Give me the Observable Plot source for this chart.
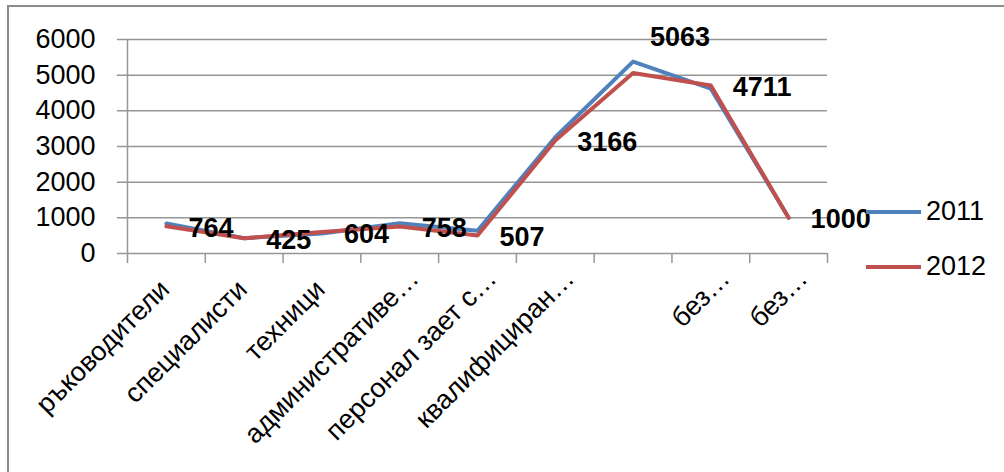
<!DOCTYPE html>
<html>
<head>
<meta charset="utf-8">
<script src="https://cdn.jsdelivr.net/npm/d3@7"></script>
<script src="https://cdn.jsdelivr.net/npm/@observablehq/plot@0.6"></script>
<style>
  html, body { margin: 0; padding: 0; background: #fff; }
  #wrap { position: relative; width: 1004px; height: 472px; overflow: hidden; font-family: "Liberation Sans", Arial, sans-serif; }
  #frame { position: absolute; left: 7px; top: 5px; right: 0; bottom: 0; border-top: 2px solid #8c8c8c; border-left: 2px solid #8c8c8c; }
  #chart { position: absolute; left: 0; top: 0; }
  .legend { position: absolute; left: 866px; font-size: 27px; color: #000; display: flex; align-items: center; }
  .legend .sw { width: 55px; height: 4px; margin-right: 5px; }
</style>
</head>
<body>
<div id="wrap">
  <div id="frame"></div>
  <div id="chart"></div>
  <div id="legend"></div>
</div>
<script>
const categories = ["ръководители", "специалисти", "техници", "административе…", "персонал зает с…", "квалифициран…", "", "без…", "без…"];
const series2011 = [840, 430, 560, 850, 640, 3260, 5380, 4620, 1000];
const series2012 = [764, 425, 604, 758, 507, 3166, 5063, 4711, 1000];
const years = ["2011", "2012"];
const colors = ["#4F81BD", "#C0504D"];
const yTicks = [0, 1000, 2000, 3000, 4000, 5000, 6000];

const rows = [];
categories.forEach((c, i) => {
  rows.push({i, cat: c, year: "2011", value: series2011[i]});
  rows.push({i, cat: c, year: "2012", value: series2012[i]});
});
const rows2012 = rows.filter(d => d.year === "2012");
const peakIdx = series2012.indexOf(d3.max(series2012));
const edges = d3.range(categories.length + 1).map(k => k - 0.5);
const catRows = categories.map((c, i) => ({i, cat: c}));
const fullLabels = catRows.filter(d => !d.cat.endsWith("…"));
const cutLabels = catRows.filter(d => d.cat.endsWith("…"));
const font = "'Liberation Sans', Arial, sans-serif";

const labelOpts = {x: "i", y: () => 0, text: "cat", rotate: -45, textAnchor: "end", lineAnchor: "top", fontSize: 27, fill: "#000"};

const plot = Plot.plot({
  width: 1004,
  height: 472,
  marginLeft: 127,
  marginRight: 177,
  marginTop: 39,
  marginBottom: 219,
  style: {fontFamily: font, fontSize: "27px", background: "transparent", overflow: "visible"},
  x: {type: "linear", domain: [-0.5, categories.length - 0.5]},
  y: {domain: [0, 6000]},
  color: {domain: years, range: colors},
  marks: [
    Plot.ruleY(yTicks, {x1: -0.63, x2: categories.length - 0.5, stroke: "#969696", strokeWidth: 1.5}),
    Plot.axisY({ticks: yTicks, tickSize: 0, tickPadding: 32, tickFormat: d3.format("d"), fontSize: 27, fill: "#000", label: null}),
    Plot.ruleX([-0.5], {y1: 0, y2: 6000, stroke: "#969696", strokeWidth: 1.5}),
    Plot.axisX({ticks: edges, tickSize: 10, tickFormat: () => "", stroke: "#969696", strokeWidth: 1.5, label: null}),
    Plot.text(fullLabels, {...labelOpts, dx: -9, dy: 24}),
    Plot.text(cutLabels, {...labelOpts, dx: 7, dy: 13}),
    Plot.line(rows, {x: "i", y: "value", z: "year", stroke: "year", strokeWidth: 4, strokeLinejoin: "round", curve: "linear"}),
    Plot.text(rows2012.filter(d => d.i !== peakIdx), {
      x: "i", y: "value", text: d => String(d.value),
      textAnchor: "start", dx: 22, dy: 2, fontSize: 27, fontWeight: "bold", fill: "#000"
    }),
    Plot.text(rows2012.filter(d => d.i === peakIdx), {
      x: "i", y: "value", text: d => String(d.value),
      textAnchor: "start", dx: 17, dy: -36, fontSize: 27, fontWeight: "bold", fill: "#000"
    })
  ]
});
document.getElementById("chart").appendChild(plot);

const leg = document.getElementById("legend");
const legTops = [196, 251];
years.forEach((y, k) => {
  const item = document.createElement("div");
  item.className = "legend";
  item.style.top = legTops[k] + "px";
  item.innerHTML = `<span class="sw" style="background:${colors[k]}"></span><span>${y}</span>`;
  leg.appendChild(item);
});
</script>
</body>
</html>
